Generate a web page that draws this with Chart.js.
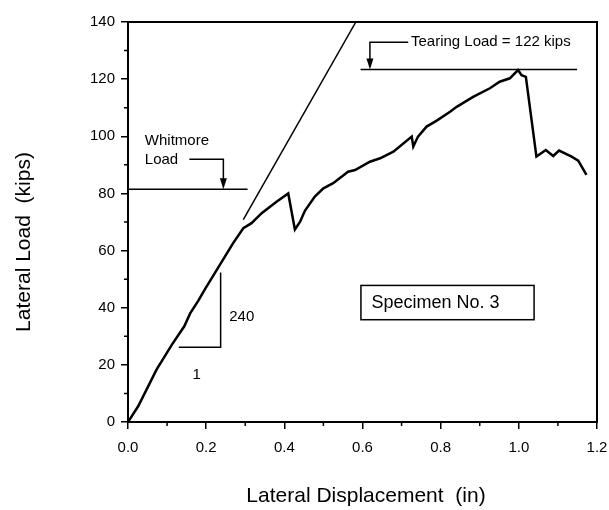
<!DOCTYPE html>
<html>
<head>
<meta charset="utf-8">
<script src="https://cdn.jsdelivr.net/npm/chart.js@4.4.1/dist/chart.umd.min.js"></script>
<style>
  html, body { margin: 0; padding: 0; background: #fff; }
  #wrap { width: 609px; height: 510px; position: relative; }
</style>
</head>
<body>
<div id="wrap"><canvas id="loadChart"></canvas></div>
<script>
// Measured load-displacement curve, Specimen No. 3
const dispIn = [0, 0.026, 0.073, 0.112, 0.144, 0.159, 0.18, 0.197, 0.235, 0.269, 0.295, 0.316, 0.342, 0.38, 0.41,
  0.427, 0.44, 0.453, 0.478, 0.5, 0.525, 0.563, 0.581, 0.619, 0.645, 0.679, 0.726, 0.73, 0.742, 0.764, 0.79,
  0.824, 0.841, 0.883, 0.926, 0.951, 0.977, 0.998, 1.007, 1.018, 1.045, 1.069, 1.088, 1.103, 1.135, 1.152, 1.173];
const loadKips = [0, 5.5, 18.3, 27, 33.5, 38, 42.5, 46.5, 55, 62.6, 67.8, 69.6, 73.1, 77.1, 80,
  67.4, 70, 74, 78.9, 81.8, 83.6, 87.6, 88.2, 91.1, 92.3, 94.6, 99.9, 96.4, 99.9, 103.4, 105.5,
  108.6, 110.3, 113.8, 116.8, 119.1, 120.3, 123.2, 121.4, 120.8, 92.9, 95.2, 93.1, 95, 92.9, 91.5, 86.5];

// Initial stiffness line (240 kips/in)
const stiffnessX = [0.295, 0.583];
const stiffnessY = [70.8, 140];

// Reference loads
const whitmoreLoad = 81.5;
const whitmoreX = [0, 0.306];
const tearingLoad = 123.4;
const tearingX = [0.595, 1.149];

// Slope triangle (240 : 1)
const slopeX = [0.13, 0.237, 0.237];
const slopeY = [26.2, 26.2, 52.3];

// Axis ranges / ticks
const xRange = [0, 1.2];
const yRange = [0, 140];
const xStep = 0.2;
const yStep = 20;

const pts = (xs, ys) => xs.map((x, i) => ({ x: x, y: ys[i] }));
const font = "'Liberation Sans', Arial, Helvetica, sans-serif";

const thinLine = (data) => ({
  data: data,
  showLine: true,
  borderColor: '#000',
  borderWidth: 1.5,
  pointRadius: 0,
  tension: 0,
});

// Frame, minor ticks, arrows and labels
const annotations = {
  id: 'annotations',
  afterDatasetsDraw(chart) {
    const { ctx, chartArea: a, scales: { x, y } } = chart;
    const px = v => x.getPixelForValue(v);
    const py = v => y.getPixelForValue(v);
    ctx.save();
    ctx.strokeStyle = '#000';
    ctx.fillStyle = '#000';

    // plot frame
    ctx.lineWidth = 2;
    ctx.strokeRect(a.left, a.top, a.right - a.left, a.bottom - a.top);

    // minor ticks
    ctx.lineWidth = 1.5;
    ctx.beginPath();
    for (let v = yStep / 2; v < yRange[1]; v += yStep) {
      ctx.moveTo(a.left - 4, py(v));
      ctx.lineTo(a.left, py(v));
    }
    for (let v = xStep / 2; v < xRange[1]; v += xStep) {
      ctx.moveTo(px(v), a.bottom);
      ctx.lineTo(px(v), a.bottom + 4);
    }
    ctx.stroke();

    // leader lines with arrowheads
    const arrow = (x0, x1, yTop, yTip) => {
      ctx.lineWidth = 1.5;
      ctx.beginPath();
      ctx.moveTo(px(x0), py(yTop));
      ctx.lineTo(px(x1), py(yTop));
      ctx.lineTo(px(x1), py(yTip) - 8);
      ctx.stroke();
      ctx.beginPath();
      ctx.moveTo(px(x1) - 3.5, py(yTip) - 11);
      ctx.lineTo(px(x1) + 3.5, py(yTip) - 11);
      ctx.lineTo(px(x1), py(yTip));
      ctx.closePath();
      ctx.fill();
    };
    arrow(0.157, 0.244, 92, whitmoreLoad);
    arrow(0.717, 0.619, 132.9, tearingLoad);

    // text labels
    ctx.textBaseline = 'middle';
    ctx.textAlign = 'left';
    ctx.font = '15px ' + font;
    ctx.fillText('Whitmore', px(0.043), py(98.5));
    ctx.fillText('Load', px(0.043), py(91.7));
    ctx.fillText('Tearing Load = 122 kips', px(0.724), py(132.9));
    ctx.fillText('240', px(0.259), py(36.9));
    ctx.textAlign = 'center';
    ctx.fillText('1', px(0.176), py(16.5));

    // specimen box
    ctx.lineWidth = 1.5;
    ctx.strokeRect(px(0.596), py(47.8), px(1.039) - px(0.596), py(35.8) - py(47.8));
    ctx.textAlign = 'left';
    ctx.font = '18px ' + font;
    ctx.fillText('Specimen No. 3', px(0.623), py(41.6));

    // axis titles
    ctx.font = '21px ' + font;
    ctx.textAlign = 'center';
    ctx.fillText('Lateral Displacement  (in)', 366, 496);
    ctx.translate(24, 242);
    ctx.rotate(-Math.PI / 2);
    ctx.fillText('Lateral Load  (kips)', 0, 0);
    ctx.restore();
  }
};

new Chart(document.getElementById('loadChart'), {
  type: 'scatter',
  data: {
    datasets: [
      {
        data: pts(dispIn, loadKips),
        showLine: true,
        borderColor: '#000',
        borderWidth: 2.5,
        pointRadius: 0,
        tension: 0,
      },
      thinLine(pts(stiffnessX, stiffnessY)),
      thinLine(pts(whitmoreX, [whitmoreLoad, whitmoreLoad])),
      thinLine(pts(tearingX, [tearingLoad, tearingLoad])),
      thinLine(pts(slopeX, slopeY)),
    ],
  },
  options: {
    responsive: true,
    maintainAspectRatio: false,
    animation: false,
    devicePixelRatio: 1,
    layout: { padding: { top: 22, right: 12, bottom: 0, left: 0 } },
    plugins: {
      legend: { display: false },
      tooltip: { enabled: false },
    },
    scales: {
      x: {
        type: 'linear',
        min: xRange[0],
        max: xRange[1],
        afterFit: s => { s.height = 88; s.paddingRight = 0; s.paddingLeft = 0; },
        ticks: {
          stepSize: xStep,
          padding: 10,
          color: '#000',
          font: { size: 15, family: font },
          callback: v => v.toFixed(1),
        },
        grid: { drawOnChartArea: false, tickLength: 7, color: '#000', lineWidth: 1.5 },
        border: { display: true, color: '#000', width: 2 },
      },
      y: {
        type: 'linear',
        min: yRange[0],
        max: yRange[1],
        afterFit: s => { s.width = 128; s.paddingTop = 0; s.paddingBottom = 0; },
        ticks: {
          stepSize: yStep,
          padding: 6,
          color: '#000',
          font: { size: 15, family: font },
        },
        grid: { drawOnChartArea: false, tickLength: 7, color: '#000', lineWidth: 1.5 },
        border: { display: true, color: '#000', width: 2 },
      },
    },
  },
  plugins: [annotations],
});
</script>
</body>
</html>
